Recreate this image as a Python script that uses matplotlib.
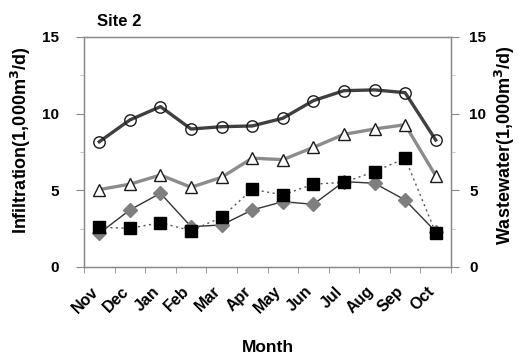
import matplotlib
matplotlib.use("Agg")
import matplotlib.pyplot as plt
import matplotlib.transforms as mtransforms
import numpy as np
from matplotlib.ticker import MultipleLocator, FixedLocator

plt.rcParams['font.family'] = ['Liberation Sans', 'DejaVu Sans']
plt.rcParams['font.weight'] = 'bold'

months = ["Nov", "Dec", "Jan", "Feb", "Mar", "Apr", "May", "Jun", "Jul", "Aug", "Sep", "Oct"]
wastewater_circle = [8.17, 9.59, 10.46, 9.0, 9.15, 9.2, 9.7, 10.85, 11.5, 11.55, 11.37, 8.28]
wastewater_triangle = [5.05, 5.4, 6.0, 5.2, 5.85, 7.1, 7.0, 7.8, 8.65, 9.0, 9.28, 5.95]
infiltration_square = [2.59, 2.52, 2.89, 2.37, 3.24, 5.07, 4.7, 5.4, 5.52, 6.22, 7.09, 2.24]
infiltration_diamond = [2.2, 3.72, 4.81, 2.63, 2.74, 3.72, 4.26, 4.09, 5.57, 5.46, 4.37, 2.3]

fig = plt.figure(figsize=(5.19, 3.54), dpi=100)
ax = fig.add_axes([84/519, 1-267/354, (451-84)/519, (267-37)/354])
x = np.arange(len(months))

ax.plot(x, wastewater_circle, color='#404040', lw=2.4, marker='o', ms=8.2,
        mfc='none', mec='#1a1a1a', mew=1.0, zorder=3)
ax.plot(x, wastewater_triangle, color='#8c8c8c', lw=2.4, marker='^', ms=9,
        mfc='white', mec='#1a1a1a', mew=1.0, zorder=3)
ax.plot(x, infiltration_diamond, color='#333333', lw=1.0, marker='D', ms=7,
        mfc='#7f7f7f', mec='#7f7f7f', zorder=4)
ax.plot(x, infiltration_square, color='#555555', lw=1.0, ls=(0, (1.5, 2.5)), marker='s', ms=9,
        mfc='black', mec='black', zorder=5)

ax.set_xlim(-0.5, 11.5)
ax.set_ylim(0, 15)
ax.yaxis.set_major_locator(MultipleLocator(5))
ax.yaxis.set_minor_locator(MultipleLocator(2.5))
ax.xaxis.set_major_locator(FixedLocator(x))
ax.xaxis.set_minor_locator(FixedLocator(np.arange(-0.5, 12, 1)))
ax.set_xticklabels(months, rotation=45, ha='right', rotation_mode='anchor', fontsize=11.5, fontweight='bold')
ax.tick_params(axis='x', which='major', length=0, pad=12)
ax.tick_params(axis='x', which='minor', length=4, color='#888888', direction='out')
ax.tick_params(axis='y', which='major', length=6, color='#888888', labelsize=11, direction='out', pad=12)
ax.tick_params(axis='y', which='minor', length=3, color='#bbbbbb', direction='out')
for s in ax.spines.values():
    s.set_color('#888888')
    s.set_linewidth(1.0)

shift = mtransforms.ScaledTranslation(-9/100, 0, fig.dpi_scale_trans)
for lab in ax.get_xticklabels():
    lab.set_transform(lab.get_transform() + shift)

ax2 = ax.twinx()
ax2.set_ylim(0, 15)
ax2.yaxis.set_major_locator(MultipleLocator(5))
ax2.yaxis.set_minor_locator(MultipleLocator(2.5))
ax2.tick_params(axis='y', which='major', length=6, color='#888888', labelsize=11, direction='out', pad=7)
ax2.tick_params(axis='y', which='minor', length=3, color='#bbbbbb', direction='out')
for s in ax2.spines.values():
    s.set_color('#888888')
for lab in ax.get_yticklabels() + ax2.get_yticklabels():
    lab.set_fontweight('bold')

fig.text(21/519, 1-140/354, 'Infiltration(1,000m$^\\mathbf{3}$/d)', fontsize=13, fontweight='bold',
         rotation=90, ha='center', va='center')
fig.text(505/519, 1-145/354, 'Wastewater(1,000m$^\\mathbf{3}$/d)', fontsize=13, fontweight='bold',
         rotation=90, ha='center', va='center')
fig.text(268/519, 1-347/354, 'Month', fontsize=12.5, fontweight='bold', ha='center', va='center')
fig.text(97/519, 1-22/354, 'Site 2', fontsize=12, fontweight='bold', ha='left', va='center')

fig.savefig('out.png', dpi=100)
